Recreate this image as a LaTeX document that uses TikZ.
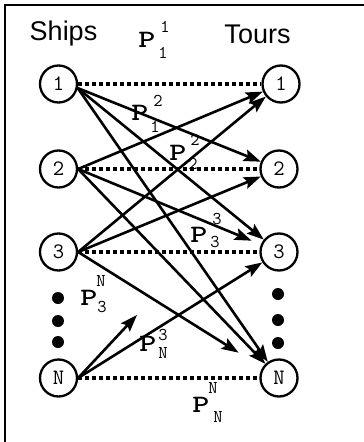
\documentclass[tikz,border=0pt]{standalone}
\usepackage{fontspec}
\usepackage{graphicx}
\setmainfont{Liberation Sans}
\usetikzlibrary{arrows.meta}
\newcommand{\bigP}{\scalebox{1.3}[1]{P}}
\begin{document}
\begin{tikzpicture}[x=1pt,y=-1pt,
  vert/.style={circle,draw,line width=2.3pt,minimum size=37pt,inner sep=0pt,font=\ttfamily\fontsize{22}{22}\selectfont},
  link/.style={line width=2.6pt},
  arr/.style={link,-{Stealth[length=17pt,width=12pt,inset=3pt]}},
  same/.style={line width=3.8pt,dash pattern=on 4pt off 3pt},
  pmain/.style={font=\ttfamily\bfseries\fontsize{25}{25}\selectfont,inner sep=0pt},
  pidx/.style={font=\ttfamily\fontsize{18}{18}\selectfont,inner sep=0pt},
  head/.style={font=\fontsize{27}{27}\selectfont,inner sep=0pt},
  bigdot/.style={circle,fill,minimum size=12pt,inner sep=0pt}]
\useasboundingbox (0,0) rectangle (364,442);
% frame
\draw[line width=1.5pt] (364,5) -- (5,5) -- (5,442);
% headings
\node[head] (ships) at (63.5,34) {Ships};
\node[head] (tours) at (257.5,34) {Tours};
% ship nodes
\node[vert] (s1) at (58.5,84) {1};
\node[vert] (s2) at (58.5,169) {2};
\node[vert] (s3) at (58.5,252) {3};
\node[vert] (sN) at (58.5,378) {N};
% tour nodes
\node[vert] (t1) at (281,84) {1};
\node[vert] (t2) at (279,169) {2};
\node[vert] (t3) at (279,252) {3};
\node[vert] (tN) at (279,378) {N};
% dots
\node[bigdot] (ld1) at (58,298) {};
\node[bigdot] (ld2) at (58,321) {};
\node[bigdot] (ld3) at (58,342) {};
\node[bigdot] (rd1) at (278,294) {};
\node[bigdot] (rd2) at (278,320) {};
\node[bigdot] (rd3) at (278,343) {};
% dotted same-index links
\draw[same] (s1) -- (t1);
\draw[same] (s2) -- (t2);
\draw[same] (s3) -- (t3);
\draw[same] (sN) -- (tN);
% ship 1
\draw[arr] (s1.-12) -- (t2);
\draw[arr] (s1.-12) -- (t3);
\draw[arr] (s1.-12) -- (tN);
% ship 2
\draw[arr] (s2.east) -- (t1);
\draw[arr,shorten >=10pt] (s2.east) -- (t3);
\draw[arr] (s2.east) -- (tN);
% ship 3
\draw[arr] (s3.east) -- (t1);
\draw[arr] (s3.east) -- (t2);
\draw[arr,shorten >=28pt] (s3.east) -- (tN);
% ship N
\draw[arr] (sN.east) -- (t3);
\coordinate (nshort) at (137,315);
\draw[arr] (sN.east) -- (nshort);
% labels
\node[pmain] (p11) at (147,40) {\bigP};
\node[pidx] (p11u) at (165,27) {1};
\node[pidx] (p11d) at (163,53) {1};
\node[pmain] (p12) at (140,113) {\bigP};
\node[pidx] (p12u) at (158,101) {2};
\node[pidx] (p12d) at (155,127) {1};
\node[pmain] (p22) at (178,153) {\bigP};
\node[pidx] (p22u) at (195,140) {2};
\node[pidx] (p22d) at (193,164) {2};
\node[pmain] (p33) at (199,235) {\bigP};
\node[pidx] (p33u) at (217,219) {3};
\node[pidx] (p33d) at (215,242) {3};
\node[pmain] (p3N) at (89,298) {\bigP};
\node[pidx] (p3Nu) at (101,281) {N};
\node[pidx] (p3Nd) at (102,307) {3};
\node[pmain] (pN3) at (148,344) {\bigP};
\node[pidx] (pN3u) at (163,335) {3};
\node[pidx] (pN3d) at (163,353) {N};
\node[pmain] (pNN) at (201,405) {\bigP};
\node[pidx] (pNNu) at (213,388) {N};
\node[pidx] (pNNd) at (218,417) {N};
\end{tikzpicture}
\end{document}
